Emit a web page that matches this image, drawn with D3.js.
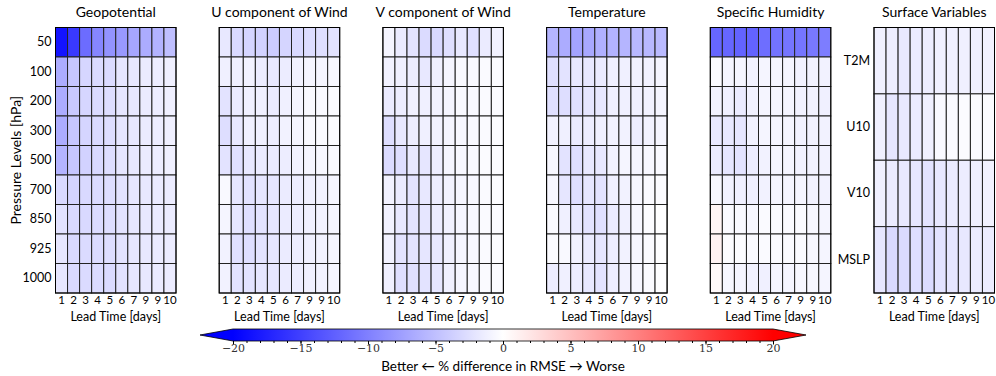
<!DOCTYPE html>
<html>
<head>
<meta charset="utf-8">
<script src="https://cdn.jsdelivr.net/npm/d3@7"></script>
<style>
  body { margin: 0; background: #fff; }
  svg text { font-family: Lato, "DejaVu Sans", sans-serif; fill: #000; }
  .cbar-ticks text { font-family: "DejaVu Serif", "Liberation Serif", serif; fill: #333; }
</style>
</head>
<body>
<svg id="chart" width="996" height="376"></svg>
<script>
// pressure level data: rows = levels, columns = lead days
const levels = ['50', '100', '200', '300', '500', '700', '850', '925', '1000']
const surfaceVars = ['T2M', 'U10', 'V10', 'MSLP']
const dayLabels = ['1', '2', '3', '4', '5', '6', '7', '9', '9', '10']
const titles = ['Geopotential', 'U component of Wind', 'V component of Wind',
  'Temperature', 'Specific Humidity', 'Surface Variables']
const cbarTicks = [-20, -15, -10, -5, 0, 5, 10, 15, 20]

const geopotential = [
  [-18.5, -15.5, -11.5, -9.5, -8.5, -8, -7, -6.5, -6, -5],
  [-6.5, -4.5, -3.2, -2.8, -2.8, -2, -1.8, -1.6, -1.4, -1.2],
  [-6.5, -4.2, -3.2, -2.8, -2.6, -2, -1.8, -1.6, -1.4, -1.2],
  [-6.5, -4.5, -3.3, -2.9, -2.6, -2, -1.8, -1.6, -1.4, -1.2],
  [-6, -4.5, -3.5, -3, -2.6, -2, -1.8, -1.6, -1.4, -1.2],
  [-3, -3.4, -3, -2.8, -2.6, -2.2, -2, -1.8, -1.6, -1.5],
  [-2.3, -3, -3, -2.8, -2.6, -2.2, -2, -1.8, -1.6, -1.5],
  [-2, -3, -2.8, -2.8, -2.6, -2.2, -2, -1.8, -1.6, -1.5],
  [-2, -3, -2.8, -2.8, -2.8, -2.3, -2, -1.8, -1.6, -1.5],
]
const uWind = [
  [-1.8, -3, -3.3, -3.5, -4, -3.3, -3, -2.7, -2.5, -2.2],
  [-1.2, -1.2, -1, -1.5, -1.8, -1.5, -1, -0.8, -0.8, -0.6],
  [-2.2, -1.6, -1.2, -1.2, -1.6, -1.2, -0.8, -0.5, -0.5, -0.4],
  [-2.6, -1.8, -1.2, -1.2, -1.4, -1, -0.8, -0.5, -0.4, -0.3],
  [-2.2, -2.4, -1.8, -1.6, -1.6, -1.4, -1, -0.8, -0.6, -0.5],
  [-0.5, -2, -2.3, -2, -2, -1.6, -1.4, -1.2, -1, -0.8],
  [-0.8, -2, -2.5, -2.2, -2, -1.6, -1.4, -1.2, -1, -0.8],
  [-1, -2.4, -2.6, -2.2, -2, -1.6, -1.4, -1.2, -1, -0.8],
  [-1, -2.2, -2.2, -2, -2, -1.6, -1.4, -1.2, -1, -0.8],
]
const vWind = [
  [-0.8, -1.6, -2.2, -2.8, -3, -2.5, -1.8, -2.5, -1.6, -1],
  [-1, -1.2, -1.4, -1.8, -1.2, -0.8, -0.5, -0.5, -0.4, -0.3],
  [-1.6, -1.4, -1.2, -1.2, -1, -0.8, -0.5, -0.5, -0.4, -0.3],
  [-2.6, -1.8, -1.4, -1.2, -1, -0.8, -0.6, -0.5, -0.4, -0.2],
  [-2.8, -2.6, -1.8, -2, -1.4, -0.8, -0.6, -0.5, -0.3, -0.2],
  [-1, -1.6, -2.2, -1.8, -1.4, -1, -0.8, -0.6, -0.4, -0.2],
  [-1, -1.8, -2.2, -2, -1.5, -1.1, -0.8, -0.6, -0.4, -0.3],
  [-1, -2.2, -2.2, -2, -1.8, -1.2, -0.8, -0.6, -0.4, -0.2],
  [-1.2, -2.5, -2.4, -2.2, -2, -1.2, -0.8, -0.6, -0.4, -0.3],
]
const temperature = [
  [-5.8, -6.5, -7.2, -6.8, -6.2, -6, -5.8, -5.6, -5.6, -5.4],
  [-2.4, -2.2, -1.8, -1.8, -1.6, -1.2, -1.2, -1, -1, -0.8],
  [-2.4, -2.6, -2.4, -2, -1.8, -1.2, -1.2, -1.2, -1, -0.8],
  [-1, -1.2, -1.6, -1.4, -1.2, -1, -1, -1.4, -1, -0.8],
  [-0.6, -2.2, -2.6, -1.8, -1.8, -1, -0.8, -0.8, -0.6, -0.5],
  [-0.6, -2, -2.6, -2, -2.2, -1.2, -1, -0.6, -0.4, -0.3],
  [-0.4, -1.2, -1.8, -2.2, -2.4, -1.6, -1.2, -0.6, -0.2, -0.1],
  [-0.3, -0.5, -1, -1.6, -2, -1.4, -1, -0.6, -0.3, -0.1],
  [-1.4, -1.2, -1.4, -1.8, -2.2, -1.4, -1, -0.6, -0.3, -0.1],
]
const humidity = [
  [-12, -12, -12.2, -12.2, -11.4, -11, -10.8, -10.8, -10.6, -10.2],
  [-0.4, -0.8, -0.8, -1, -0.8, -0.8, -0.8, -1, -1, -1],
  [-1, -1.2, -1.6, -1, -0.8, -0.8, -0.8, -1, -1, -1.2],
  [-1.8, -1.8, -2, -1, -0.8, -0.8, -0.8, -1, -1, -1],
  [-1.6, -2, -2.2, -1.4, -1, -0.8, -0.8, -1, -1, -1],
  [-0.6, -1, -1.2, -1.2, -1, -0.8, -0.8, -0.8, -1, -1],
  [0.8, -0.4, -0.5, -0.6, -0.4, -0.4, -0.4, -0.4, -0.6, -0.8],
  [1.0, -0.2, -0.2, -0.4, -0.4, -0.4, -0.4, -0.4, -0.6, -0.8],
  [0.5, -0.6, -0.8, -1, -1.2, -0.8, -0.8, -0.6, -0.6, -0.8],
]
const surface = [
  [-1.2, -1.4, -1.8, -1.6, -1.4, -1.2, -1.2, -1.2, -1.2, -1],
  [-1.2, -2, -1.8, -1.6, -1.2, -0.5, -0.4, -0.3, -0.4, -0.3],
  [-1.2, -1.6, -1.8, -2, -2.2, -1.8, -1.6, -1.4, -1.2, -1],
  [-2, -3, -2.8, -2.6, -2.8, -2.2, -2, -1.8, -1.6, -1.5],
]

const panels = [
  {data: geopotential, rows: levels},
  {data: uWind, rows: levels},
  {data: vWind, rows: levels},
  {data: temperature, rows: levels},
  {data: humidity, rows: levels},
  {data: surface, rows: surfaceVars},
]

const svg = d3.select('#chart')
const color = d3.scaleLinear()
  .domain([-20, 0, 20])
  .range(['#0000ff', '#ffffff', '#ff0000'])
  .clamp(true)

const left0 = 55.5
const step = 163.7
const pw = 120.5
const panelTop = 27.5
const ph = 265.5
const days = d3.range(10)

panels.forEach((p, i) => {
  const g = svg.append('g')
    .attr('transform', `translate(${left0 + i * step}, ${panelTop})`)
  const x = d3.scaleBand().domain(days).range([0, pw])
  const y = d3.scaleBand().domain(p.rows).range([0, ph])

  const cells = []
  p.data.forEach((row, r) => row.forEach((v, d) => cells.push({row: p.rows[r], day: d, v})))

  g.selectAll('.cell')
    .data(cells)
    .enter()
    .append('rect')
    .attr('class', 'cell')
    .attr('x', (d) => x(d.day))
    .attr('y', (d) => y(d.row))
    .attr('width', x.bandwidth())
    .attr('height', y.bandwidth())
    .attr('fill', (d) => color(d.v))
    .attr('stroke', '#222')
    .attr('stroke-width', 1)

  g.append('rect')
    .attr('width', pw)
    .attr('height', ph)
    .attr('fill', 'none')
    .attr('stroke', '#000')
    .attr('stroke-width', 1)

  // x axis
  const xAxis = g.append('g')
    .attr('transform', `translate(0, ${ph})`)
    .call(d3.axisBottom(x).tickSize(0).tickPadding(3).tickFormat((d) => dayLabels[d]))
  xAxis.select('.domain').remove()
  xAxis.selectAll('text').attr('font-size', 11.5)

  g.append('text')
    .attr('x', pw / 2)
    .attr('y', ph + 28)
    .attr('text-anchor', 'middle')
    .attr('font-size', 12.5)
    .text('Lead Time [days]')

  g.append('text')
    .attr('x', pw / 2)
    .attr('y', -11)
    .attr('text-anchor', 'middle')
    .attr('font-size', 14)
    .text(titles[i])

  if (i === 0 || i === 5) {
    const yAxis = g.append('g')
      .call(d3.axisLeft(y).tickSize(0).tickPadding(4))
    yAxis.select('.domain').remove()
    yAxis.selectAll('text').attr('font-size', 12.5)
  }
  if (i === 0) {
    g.append('text')
      .attr('transform', `translate(-35, ${ph / 2}) rotate(-90)`)
      .attr('text-anchor', 'middle')
      .attr('font-size', 14)
      .text('Pressure Levels [hPa]')
  }
})

// colorbar
const cb = {x0: 233, x1: 773, y: 329, h: 12, ext: 33}
const cx = d3.scaleLinear().domain([-20, 20]).range([cb.x0, cb.x1])
const defs = svg.append('defs')
const grad = defs.append('linearGradient').attr('id', 'bwr')
d3.range(0, 1.0001, 0.05).forEach((t) => {
  grad.append('stop')
    .attr('offset', t)
    .attr('stop-color', color(-20 + 40 * t))
})
const cg = svg.append('g')
cg.append('path')
  .attr('d', `M${cb.x0},${cb.y} L${cb.x0 - cb.ext},${cb.y + cb.h / 2} L${cb.x0},${cb.y + cb.h} Z`)
  .attr('fill', color(-20))
cg.append('path')
  .attr('d', `M${cb.x1},${cb.y} L${cb.x1 + cb.ext},${cb.y + cb.h / 2} L${cb.x1},${cb.y + cb.h} Z`)
  .attr('fill', color(20))
cg.append('rect')
  .attr('x', cb.x0)
  .attr('y', cb.y)
  .attr('width', cb.x1 - cb.x0)
  .attr('height', cb.h)
  .attr('fill', 'url(#bwr)')
cg.append('path')
  .attr('d', `M${cb.x0},${cb.y} L${cb.x0 - cb.ext},${cb.y + cb.h / 2} L${cb.x0},${cb.y + cb.h} L${cb.x1},${cb.y + cb.h} L${cb.x1 + cb.ext},${cb.y + cb.h / 2} L${cb.x1},${cb.y} Z`)
  .attr('fill', 'none')
  .attr('stroke', '#000')
  .attr('stroke-width', 0.8)

const minor = cg.append('g')
  .attr('transform', `translate(0, ${cb.y + cb.h})`)
  .call(d3.axisBottom(cx).tickValues(d3.range(-20, 21, 1)).tickSize(2).tickFormat(''))
minor.select('.domain').remove()

const major = cg.append('g')
  .attr('class', 'cbar-ticks')
  .attr('transform', `translate(0, ${cb.y + cb.h})`)
  .call(d3.axisBottom(cx).tickValues(cbarTicks).tickSize(3.5).tickPadding(0)
    .tickFormat((d) => (d < 0 ? '\u2212' + Math.abs(d) : d)))
major.select('.domain').remove()
major.selectAll('text').attr('font-size', 11)

svg.append('text')
  .attr('x', 503)
  .attr('y', 371)
  .attr('text-anchor', 'middle')
  .attr('font-size', 13.5)
  .text('Better \u2190 % difference in RMSE \u2192 Worse')
</script>
</body>
</html>
